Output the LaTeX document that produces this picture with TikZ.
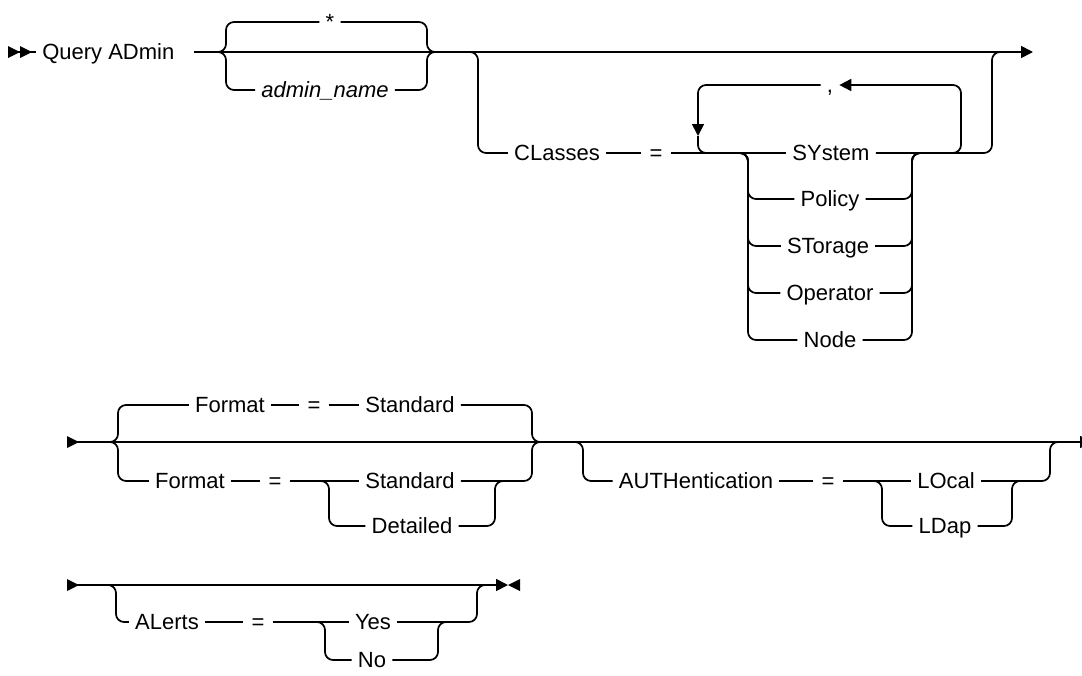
\documentclass[tikz,border=0pt]{standalone}
\usepackage{fontspec}
\setmainfont{Liberation Sans}
\usetikzlibrary{arrows.meta}

\begin{document}
\begin{tikzpicture}[x=0.75pt,y=-0.75pt,>={Triangle[length=9pt,width=9pt]},
    rail/.style={line width=1.3pt,rounded corners=6pt},
    kw/.style={inner xsep=4.5pt,inner ysep=0pt,text height=15.5pt,text depth=4pt,
      font=\fontsize{16.5}{19}\selectfont},
    var/.style={kw,font=\fontsize{16.5}{19}\selectfont\itshape},
    sym/.style={kw,inner xsep=6pt}]
  \useasboundingbox (0,0) rectangle (1082,675);

  % first line
  \coordinate (st1) at (8,52);
  \fill (8,46) -- (20,52) -- (8,58) -- cycle;
  \fill (20,46) -- (32,52) -- (20,58) -- cycle;
  \node[kw,anchor=west] (qa) at (36,52) {Query ADmin};
  \draw[rail] (st1) -- (qa.west);

  \coordinate (b1l) at (218,52);
  \coordinate (b1r) at (435,52);
  \coordinate (c2l) at (470,52);
  \coordinate (c2r) at (1000,52);
  \coordinate (end1) at (1033,52);
  \node[kw] (star) at (330,22) {*};
  \node[var] (adm) at (325,90) {admin\_name};
  \draw[rail] ([xshift=10pt]qa.east) -- (b1l);
  \draw[rail,->] (b1l) -- (end1);
  \draw[rail] (b1l) -- ++(8,0) |- (star.west);
  \draw[rail] (star.east) -| ([xshift=-6pt]b1r) -- (b1r);
  \draw[rail] (b1l) -- ++(8,0) |- (adm.west);
  \draw[rail] (adm.east) -| ([xshift=-6pt]b1r) -- (b1r);

  % CLasses
  \node[kw] (cls) at (557,153) {CLasses};
  \node[sym] (eq1) at (656,153) {=};
  \node[kw] (sys) at (831,153) {SYstem};
  \node[kw] (pol) at (830,199) {Policy};
  \node[kw] (sto) at (828,246) {STorage};
  \node[kw] (opr) at (830,293) {Operator};
  \node[kw] (nod) at (830,340) {Node};
  \node[kw] (cma) at (830,85) {,};
  \coordinate (s1l) at (740,153);
  \coordinate (s1r) at (920,153);
  \coordinate (lpl) at (706,153);
  \coordinate (lpr) at (953,153);
  \coordinate (lpa) at (698,136);
  \draw[rail] (c2l) -- ++(8,0) |- (cls.west);
  \draw[rail] (cls.east) -- (eq1.west);
  \draw[rail] (eq1.east) -- (sys.west);
  \draw[rail] (sys.east) -| ([xshift=-6pt]c2r) -- (c2r);
  \foreach \n in {pol,sto,opr,nod} {
    \draw[rail] (s1l) -- ++(8,0) |- (\n.west);
    \draw[rail] (\n.east) -| ([xshift=-6pt]s1r) -- (s1r);
  }
  % repeat
  \draw[rail,->] (lpr) -- ++(8,0) |- (cma.east);
  \draw[rail,->] (cma.west) -| (lpa);
  \draw[rail] (lpa) |- (lpl);

  % second line
  \coordinate (st2) at (67,442);
  \fill (67,436) -- (79,442) -- (67,448) -- cycle;
  \coordinate (b2l) at (110,442);
  \coordinate (b2r) at (540,442);
  \coordinate (a2l) at (575,442);
  \coordinate (a2r) at (1058,442);
  \coordinate (end2) at (1092,442);
  \node[kw] (fmt1) at (230,405) {Format};
  \node[sym] (eq2) at (314,405) {=};
  \node[kw] (std1) at (410,405) {Standard};
  \node[kw] (fmt2) at (190,481) {Format};
  \node[sym] (eq3) at (275,481) {=};
  \node[kw] (std2) at (410,481) {Standard};
  \node[kw] (det) at (412,526) {Detailed};
  \coordinate (s2l) at (321,481);
  \coordinate (s2r) at (503,481);
  \draw[rail,->] (st2) -- (end2);
  \draw[rail] (b2l) -- ++(8,0) |- (fmt1.west);
  \draw[rail] (fmt1.east) -- (eq2.west);
  \draw[rail] (eq2.east) -- (std1.west);
  \draw[rail] (std1.east) -| ([xshift=-6pt]b2r) -- (b2r);
  \draw[rail] (b2l) -- ++(8,0) |- (fmt2.west);
  \draw[rail] (fmt2.east) -- (eq3.west);
  \draw[rail] (eq3.east) -- (std2.west);
  \draw[rail] (std2.east) -| ([xshift=-6pt]b2r) -- (b2r);
  \draw[rail] (s2l) -- ++(8,0) |- (det.west);
  \draw[rail] (det.east) -| ([xshift=-6pt]s2r) -- (s2r);

  \node[kw] (auth) at (696,481) {AUTHentication};
  \node[sym] (eq4) at (828,481) {=};
  \node[kw] (loc) at (946,481) {LOcal};
  \node[kw] (ldp) at (945,526) {LDap};
  \coordinate (s3l) at (874,481);
  \coordinate (s3r) at (1020,481);
  \draw[rail] (a2l) -- ++(8,0) |- (auth.west);
  \draw[rail] (auth.east) -- (eq4.west);
  \draw[rail] (eq4.east) -- (loc.west);
  \draw[rail] (loc.east) -| ([xshift=-6pt]a2r) -- (a2r);
  \draw[rail] (s3l) -- ++(8,0) |- (ldp.west);
  \draw[rail] (ldp.east) -| ([xshift=-6pt]s3r) -- (s3r);

  % third line
  \coordinate (st3) at (67,585);
  \fill (67,579) -- (79,585) -- (67,591) -- cycle;
  \coordinate (a3l) at (108,585);
  \coordinate (a3r) at (485,585);
  \coordinate (end3) at (508,585);
  \node[kw] (alr) at (167,622) {ALerts};
  \node[sym] (eq5) at (258,622) {=};
  \node[kw] (yes) at (373,622) {Yes};
  \node[kw] (no) at (372,660) {No};
  \coordinate (s4l) at (317,622);
  \coordinate (s4r) at (446,622);
  \draw[rail,->] (st3) -- (end3);
  \fill (520,579) -- (508,585) -- (520,591) -- cycle;
  \draw[rail] (a3l) -- ++(8,0) |- (alr.west);
  \draw[rail] (alr.east) -- (eq5.west);
  \draw[rail] (eq5.east) -- (yes.west);
  \draw[rail] (yes.east) -| ([xshift=-6pt]a3r) -- (a3r);
  \draw[rail] (s4l) -- ++(8,0) |- (no.west);
  \draw[rail] (no.east) -| ([xshift=-6pt]s4r) -- (s4r);
\end{tikzpicture}
\end{document}
